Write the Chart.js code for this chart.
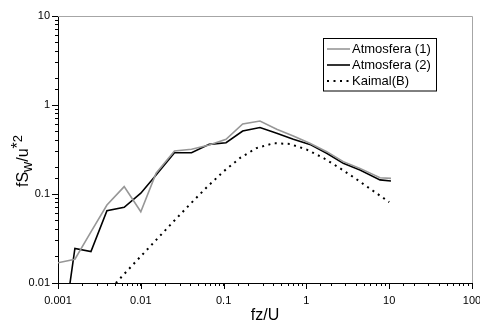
<!DOCTYPE html>
<html>
<head>
<meta charset="utf-8">
<script src="https://cdn.jsdelivr.net/npm/chart.js@4/dist/chart.umd.min.js"></script>
<style>
  html, body { margin: 0; padding: 0; background: #fff; }
  #wrap { width: 480px; height: 324px; }
</style>
</head>
<body>
<div id="wrap"><canvas id="c" width="480" height="324"></canvas></div>
<script>
// ---- data ----
const fz = [0.001, 0.0016, 0.0025, 0.0039, 0.0063, 0.01, 0.0153, 0.0255, 0.041, 0.067, 0.107, 0.17, 0.275, 0.438, 0.695, 1.1, 1.76, 2.79, 4.44, 7.74, 10.5];
const atmosfera1 = [0.0169, 0.0185, 0.0375, 0.0752, 0.121, 0.0633, 0.171, 0.304, 0.318, 0.355, 0.412, 0.612, 0.661, 0.533, 0.449, 0.371, 0.299, 0.231, 0.194, 0.152, 0.150];
const atmosfera2 = [0.0011, 0.0245, 0.0225, 0.0649, 0.071, 0.102, 0.1635, 0.291, 0.291, 0.361, 0.377, 0.51, 0.559, 0.481, 0.412, 0.361, 0.287, 0.221, 0.186, 0.144, 0.140];
const kaimalFz = [0.005, 0.0063, 0.01, 0.016, 0.025, 0.04, 0.063, 0.1, 0.16, 0.25, 0.4, 0.63, 1, 1.6, 2.5, 4, 6.3, 10];
const kaimalB = [0.00999, 0.0126, 0.01995, 0.0318, 0.0494, 0.0781, 0.1197, 0.1795, 0.256, 0.328, 0.372, 0.365, 0.317, 0.254, 0.197, 0.147, 0.1096, 0.081];
const seriesLabels = ['Atmosfera (1)', 'Atmosfera (2)', 'Kaimal(B)'];
const xTickLabels = ['0.001', '0.01', '0.1', '1', '10', '100'];
const yTickLabels = ['0.01', '0.1', '1', '10'];
const xTitle = 'fz/U';

const FONT = '"Liberation Sans", Arial, Helvetica, sans-serif';

function toXY(xs, ys) { return xs.map((x, i) => ({ x: x, y: ys[i] })); }

function isPow10(v) { const l = Math.log10(v); return Math.abs(l - Math.round(l)) < 1e-6; }

function powerLabel(labels, firstExp) {
  return function (value) {
    if (isPow10(value)) {
      const idx = Math.round(Math.log10(value)) - firstExp;
      if (idx >= 0 && idx < labels.length) return labels[idx];
    }
    return '';
  };
}

const framePlugin = {
  id: 'frame',
  beforeDatasetsDraw(chart) {
    const a = chart.chartArea, ctx = chart.ctx;
    ctx.save();
    ctx.strokeStyle = '#a6a6a6';
    ctx.lineWidth = 1;
    ctx.beginPath();
    ctx.moveTo(a.left, Math.round(a.top) + 0.5);
    ctx.lineTo(Math.round(a.right) + 0.5, Math.round(a.top) + 0.5);
    ctx.lineTo(Math.round(a.right) + 0.5, a.bottom);
    ctx.stroke();
    // longer marks at the labelled (major) ticks
    ctx.strokeStyle = '#000';
    const xs = chart.scales.x, ys = chart.scales.y;
    ctx.beginPath();
    xs.ticks.forEach(t => {
      if (isPow10(t.value)) {
        const px = Math.round(xs.getPixelForValue(t.value)) + 0.5;
        ctx.moveTo(px, a.bottom);
        ctx.lineTo(px, a.bottom + 6);
      }
    });
    ys.ticks.forEach(t => {
      if (isPow10(t.value)) {
        const py = Math.round(ys.getPixelForValue(t.value)) + 0.5;
        ctx.moveTo(a.left, py);
        ctx.lineTo(a.left - 6, py);
      }
    });
    ctx.stroke();
    ctx.restore();
  }
};

const yTitlePlugin = {
  id: 'ytitle',
  afterDraw(chart) {
    const ctx = chart.ctx;
    const parts = [
      { t: 'fS', size: 16, dy: 0 },
      { t: 'w', size: 14, dy: 4 },
      { t: '/u', size: 16, dy: 0 },
      { t: '*', size: 16, dy: -5 },
      { t: '2', size: 13, dy: -6 }
    ];
    ctx.save();
    let total = 0;
    parts.forEach(p => { ctx.font = p.size + 'px ' + FONT; p.w = ctx.measureText(p.t).width; total += p.w; });
    ctx.translate(24, 161);
    ctx.rotate(-Math.PI / 2);
    ctx.fillStyle = '#000';
    ctx.textBaseline = 'middle';
    ctx.textAlign = 'left';
    let x = -total / 2;
    parts.forEach(p => {
      ctx.font = p.size + 'px ' + FONT;
      ctx.fillText(p.t, x, p.dy);
      x += p.w;
    });
    ctx.restore();
  }
};

const legendPlugin = {
  id: 'boxLegend',
  afterDraw(chart) {
    const ctx = chart.ctx;
    const bx = 323.5, by = 38.5, bw = 113, bh = 52.5;
    ctx.save();
    ctx.fillStyle = '#fff';
    ctx.fillRect(bx, by, bw, bh);
    ctx.strokeStyle = '#000';
    ctx.lineWidth = 1;
    ctx.strokeRect(bx, by, bw, bh);
    ctx.font = '13px ' + FONT;
    ctx.textBaseline = 'middle';
    ctx.textAlign = 'left';
    chart.data.datasets.forEach((ds, i) => {
      const yy = 49 + i * 16;
      ctx.strokeStyle = ds.borderColor;
      ctx.lineWidth = ds.borderWidth;
      ctx.setLineDash(ds.borderDash || []);
      ctx.beginPath();
      ctx.moveTo(327, yy);
      ctx.lineTo(350, yy);
      ctx.stroke();
      ctx.setLineDash([]);
      ctx.fillStyle = '#000';
      ctx.fillText(ds.label, 352, yy + 0.5);
    });
    ctx.restore();
  }
};

new Chart(document.getElementById('c'), {
  type: 'line',
  data: {
    datasets: [
      { label: seriesLabels[0], data: toXY(fz, atmosfera1), borderColor: '#979797', borderWidth: 1.6, pointRadius: 0, tension: 0, fill: false },
      { label: seriesLabels[1], data: toXY(fz, atmosfera2), borderColor: '#000000', borderWidth: 1.6, pointRadius: 0, tension: 0, fill: false },
      { label: seriesLabels[2], data: toXY(kaimalFz, kaimalB), borderColor: '#000000', borderWidth: 2, borderDash: [2, 4.5], pointRadius: 0, tension: 0, fill: false }
    ]
  },
  options: {
    responsive: false,
    animation: false,
    devicePixelRatio: 1,
    layout: { padding: { left: 0, right: 8, top: 16, bottom: 0 } },
    plugins: { legend: { display: false }, tooltip: { enabled: false } },
    scales: {
      x: {
        type: 'logarithmic',
        min: 0.001, max: 100,
        afterFit(s) { s.height = 41; s.paddingLeft = 0; s.paddingRight = 0; },
        grid: { display: true, drawOnChartArea: false, drawTicks: true, tickLength: 3, color: '#000', lineWidth: 1 },
        border: { display: true, color: '#000', width: 1 },
        ticks: { autoSkip: false, maxRotation: 0, minRotation: 0, padding: 8, color: '#000', font: { family: FONT, size: 11 }, callback: powerLabel(xTickLabels, -3) },
        title: { display: true, text: xTitle, color: '#000', font: { family: FONT, size: 16 }, padding: { top: 0, bottom: -1 } }
      },
      y: {
        type: 'logarithmic',
        min: 0.01, max: 10,
        afterFit(s) { s.width = 58; s.paddingTop = 0; s.paddingBottom = 0; },
        grid: { display: true, drawOnChartArea: false, drawTicks: true, tickLength: 3, color: '#000', lineWidth: 1 },
        border: { display: true, color: '#000', width: 1 },
        ticks: { autoSkip: false, padding: 5, color: '#000', font: { family: FONT, size: 11 }, callback: powerLabel(yTickLabels, -2) }
      }
    }
  },
  plugins: [framePlugin, yTitlePlugin, legendPlugin]
});
</script>
</body>
</html>
